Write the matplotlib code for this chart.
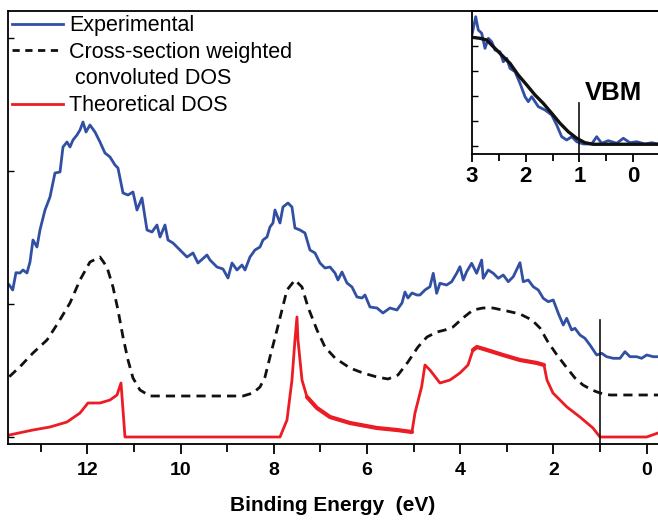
import matplotlib
matplotlib.use("Agg")
import matplotlib.pyplot as plt
import numpy as np
from matplotlib.lines import Line2D
from matplotlib.ticker import MultipleLocator, FixedLocator, NullFormatter

plt.rcParams['font.family'] = ['Liberation Sans', 'DejaVu Sans']

# ---------------- data (binding energy in eV, intensity in arb. units) -------------
exp_E = [13.678, 13.605, 13.535, 13.449, 13.384, 13.299, 13.234, 13.170, 13.084, 13.020,
         12.912, 12.805, 12.698, 12.590, 12.526, 12.440, 12.376, 12.311, 12.226, 12.161,
         12.097, 12.032, 11.947, 11.839, 11.732, 11.625, 11.517, 11.410, 11.346, 11.238,
         11.131, 11.024, 10.938, 10.831, 10.723, 10.616, 10.509, 10.444, 10.337, 10.273,
         10.165, 10.015, 9.865, 9.736, 9.629, 9.436,
         9.371, 9.221, 9.092, 8.985, 8.899, 8.792, 8.685, 8.620, 8.513, 8.406,
         8.298, 8.234, 8.148, 8.084, 8.020, 7.977, 7.869, 7.805, 7.698, 7.612,
         7.548, 7.440, 7.333, 7.226, 7.118, 7.011, 6.904, 6.796, 6.689, 6.625,
         6.539, 6.432, 6.324, 6.217, 6.110, 6.045, 5.938, 5.788, 5.659, 5.509,
         5.359, 5.251, 5.187, 5.123, 5.037, 4.930,
         4.865, 4.758, 4.651, 4.580, 4.507, 4.436, 4.292, 4.185, 4.078, 4.007,
         3.936, 3.863, 3.756, 3.649, 3.541, 3.507, 3.400, 3.292, 3.185, 3.078,
         2.970, 2.863, 2.719, 2.648, 2.541, 2.434, 2.326, 2.219, 2.112, 2.005,
         1.897, 1.790, 1.717, 1.610, 1.539, 1.432, 1.325, 1.217, 1.073, 0.966,
         0.859, 0.717, 0.573, 0.466, 0.359, 0.215, 0.108, 0.000, -0.142, -0.243]
exp_I = [1.59, 1.54, 1.713, 1.71, 1.74, 1.71, 1.82, 2.04, 1.97, 2.14,
         2.34, 2.47, 2.71, 2.72, 2.97, 3.02, 2.97, 3.04, 3.09, 3.14,
         3.22, 3.12, 3.19, 3.12, 3.02, 2.91, 2.87, 2.79, 2.76, 2.51,
         2.49, 2.52, 2.34, 2.46, 2.14, 2.12, 2.19, 2.07, 2.19, 2.04,
         2.01, 1.94, 1.87, 1.91, 1.81, 1.89,
         1.84, 1.77, 1.75, 1.66, 1.81, 1.74, 1.79, 1.74, 1.87, 1.94,
         1.97, 2.04, 2.07, 2.17, 2.21, 2.34, 2.21, 2.37, 2.41, 2.37,
         2.16, 2.14, 2.11, 1.94, 1.91, 1.81, 1.76, 1.77, 1.71, 1.64,
         1.72, 1.61, 1.57, 1.47, 1.46, 1.49, 1.37, 1.36, 1.31, 1.36,
         1.34, 1.41, 1.52, 1.46, 1.51, 1.49,
         1.49, 1.54, 1.573, 1.707, 1.507, 1.607, 1.59, 1.623, 1.707, 1.773,
         1.64, 1.723, 1.807, 1.707, 1.84, 1.657, 1.74, 1.707, 1.657, 1.69,
         1.623, 1.673, 1.813, 1.623, 1.64, 1.573, 1.54, 1.457, 1.423, 1.44,
         1.307, 1.19, 1.257, 1.14, 1.157, 1.09, 1.057, 0.99, 0.89, 0.907,
         0.873, 0.857, 0.857, 0.923, 0.873, 0.873, 0.857, 0.89, 0.873, 0.873]

conv_E = [13.678, 13.449, 13.170, 12.869, 12.633, 12.376, 12.161, 11.947, 11.732, 11.582,
          11.453, 11.346, 11.238, 11.131, 11.024, 10.874, 10.659, 8.663, 8.449, 8.298,
          8.191, 8.084, 7.934, 7.827, 7.719, 7.548, 7.397, 7.269, 7.075, 6.904,
          6.689, 6.367, 6.088, 5.788, 5.552, 5.337, 5.123, 4.908, 4.715, 4.500,
          4.329, 4.157, 3.943, 3.728, 3.513, 3.299, 2.998, 2.719, 2.462, 2.290,
          2.118, 1.925, 1.711, 1.539, 1.367, 1.174, 1.003, 0.788, -0.243]
conv_I = [0.673, 0.773, 0.91, 1.04, 1.21, 1.41, 1.64, 1.82, 1.87, 1.77,
          1.57, 1.34, 1.07, 0.84, 0.66, 0.54, 0.48, 0.48, 0.51, 0.57,
          0.67, 0.87, 1.14, 1.34, 1.54, 1.64, 1.57, 1.37, 1.14, 0.97,
          0.86, 0.76, 0.71, 0.67, 0.65, 0.69, 0.82, 0.97, 1.07, 1.12,
          1.14, 1.17, 1.26, 1.34, 1.36, 1.36, 1.33, 1.30, 1.24, 1.16,
          1.02, 0.89, 0.76, 0.66, 0.59, 0.54, 0.51, 0.49, 0.49]

theo_E = [13.678, 13.170, 12.805, 12.440, 12.161, 11.990, 11.732, 11.517, 11.367, 11.281,
          11.238, 11.196, 7.869, 7.719, 7.612, 7.548, 7.505, 7.483, 7.397, 7.290,
          7.075, 6.796, 6.367, 5.788, 5.359, 5.037, 4.972, 4.829, 4.758, 4.651,
          4.436, 4.221, 4.007, 3.835, 3.728, 3.642, 3.427, 3.084, 2.719, 2.354,
          2.204, 2.140, 2.011, 1.711, 1.432, 1.153, 1.003, 0.852, 0.000, -0.243]
theo_I = [0.09, 0.14, 0.17, 0.22, 0.31, 0.41, 0.41, 0.44, 0.49, 0.61,
          0.34, 0.07, 0.07, 0.24, 0.64, 1.04, 1.27, 1.04, 0.64, 0.47,
          0.36, 0.27, 0.21, 0.16, 0.14, 0.12, 0.31, 0.573, 0.79, 0.74,
          0.61, 0.64, 0.71, 0.79, 0.94, 0.97, 0.94, 0.89, 0.84, 0.81,
          0.79, 0.64, 0.51, 0.37, 0.27, 0.16, 0.07, 0.07, 0.07, 0.11]
# energy windows where the theoretical DOS shows dense fine structure
theo_fine_windows = [(7.3, 5.03), (3.75, 2.20)]

vbm_E = 1.0
vbm_top_main = 1.24

# inset: valence band edge
ins_exp_E = [2.994, 2.931, 2.883, 2.819, 2.758, 2.696, 2.633, 2.572, 2.479, 2.417,
             2.354, 2.292, 2.199, 2.106, 2.013, 1.952, 1.888, 1.765, 1.641, 1.516,
             1.423, 1.330, 1.236, 1.143, 1.050, 0.927, 0.771, 0.678, 0.585, 0.462,
             0.305, 0.182, 0.058, -0.067, -0.222, -0.346, -0.464]
ins_exp_I = [0.844, 0.960, 0.867, 0.844, 0.739, 0.809, 0.785, 0.727, 0.715, 0.645,
             0.669, 0.599, 0.576, 0.494, 0.401, 0.366, 0.401, 0.331, 0.308, 0.273,
             0.203, 0.121, 0.098, 0.121, 0.086, 0.070, 0.070, 0.121, 0.075, 0.093,
             0.075, 0.110, 0.079, 0.086, 0.070, 0.079, 0.070]
ins_fit_E = [2.994, 2.851, 2.726, 2.603, 2.479, 2.292, 2.138, 1.981, 1.827, 1.672,
             1.516, 1.361, 1.207, 1.050, 0.896, 0.741, -0.464]
ins_fit_I = [0.816, 0.809, 0.797, 0.750, 0.704, 0.634, 0.552, 0.483, 0.413, 0.354,
             0.285, 0.215, 0.156, 0.110, 0.079, 0.068, 0.068]
vbm_top_inset = 0.357

legend_labels = ["Experimental", "Cross-section weighted", " convoluted DOS", "Theoretical DOS"]

BLUE = "#3150a3"
RED = "#ec1c24"
BLACK = "#111111"

fig = plt.figure(figsize=(6.58, 5.2), dpi=100)
ax = fig.add_axes([8/658, 76/520, 650/658, 433/520])

l1, = ax.plot(exp_E, exp_I, color=BLUE, lw=2.0)
l2, = ax.plot(conv_E, conv_I, color=BLACK, lw=2.0, linestyle=(0, (3.3, 2.2)))
l3, = ax.plot(theo_E, theo_I, color=RED, lw=2.0)
tE = np.array(theo_E)
tI = np.array(theo_I)
for hi, lo in theo_fine_windows:
    m = (tE <= hi) & (tE >= lo)
    ax.plot(tE[m], tI[m], color=RED, lw=3.0, solid_capstyle='round')
ax.plot([vbm_E, vbm_E], [0, vbm_top_main], color=BLACK, lw=1.2)

ax.set_xlim(13.706, -0.243)
ax.set_ylim(0, 4.33)
ax.xaxis.set_major_locator(MultipleLocator(2))
ax.xaxis.set_minor_locator(MultipleLocator(1))
ax.yaxis.set_major_locator(FixedLocator([0.07, 1.40, 2.73, 4.06]))
ax.yaxis.set_major_formatter(NullFormatter())
for s in ['left', 'bottom', 'top']:
    ax.spines[s].set_linewidth(1.3)
ax.spines['right'].set_visible(False)
ax.tick_params(axis='x', which='major', direction='out', length=7, width=1.3,
               pad=6, labelsize=14, bottom=True, top=False)
ax.tick_params(axis='x', which='minor', direction='out', length=6, width=1.3,
               bottom=True, top=False)
ax.tick_params(axis='y', which='major', direction='in', length=4, width=1.0, left=True, right=False)
for lbl in ax.get_xticklabels():
    lbl.set_fontweight('bold')
ax.set_xlabel("Binding Energy  (eV)", fontsize=15, fontweight='bold', labelpad=12)

blank = Line2D([], [], color='none', lw=0)
leg_dash = Line2D([], [], color=BLACK, lw=2.0, linestyle=(0, (2.6, 2.0)))
leg = ax.legend([l1, leg_dash, blank, l3], legend_labels, loc='upper left', bbox_to_anchor=(0.0, 1.0),
                frameon=False, fontsize=15.5, handlelength=2.37, handletextpad=0.28,
                borderaxespad=0.0, borderpad=0.2, labelspacing=0.26)

# inset
ins = fig.add_axes([472/658, 366/520, 186/658, 143/520])
ins.patch.set_alpha(0)
ins.plot(ins_exp_E, ins_exp_I, color=BLUE, lw=2.0)
ins.plot(ins_fit_E, ins_fit_I, color=BLACK, lw=2.4)
ins.plot([vbm_E, vbm_E], [0, vbm_top_inset], color=BLACK, lw=1.2)
ins.text(0.896, 0.43, "VBM", fontsize=18.5, fontweight='bold', ha='left', va='center')
ins.set_xlim(3.0, -0.464)
ins.set_ylim(0, 1)
ins.xaxis.set_major_locator(MultipleLocator(1))
ins.xaxis.set_minor_locator(MultipleLocator(0.5))
ins.yaxis.set_major_locator(FixedLocator([0.056, 0.231, 0.406, 0.580, 0.755]))
ins.yaxis.set_major_formatter(NullFormatter())
for s in ['left', 'bottom', 'top']:
    ins.spines[s].set_linewidth(1.3)
ins.spines['right'].set_visible(False)
ins.tick_params(axis='x', which='major', direction='out', length=6, width=1.3, pad=3, labelsize=16)
ins.tick_params(axis='x', which='minor', direction='out', length=5, width=1.3)
ins.tick_params(axis='y', which='major', direction='in', length=4, width=1.0)
for lbl in ins.get_xticklabels():
    lbl.set_fontweight('bold')

fig.savefig("out.png", dpi=100)
